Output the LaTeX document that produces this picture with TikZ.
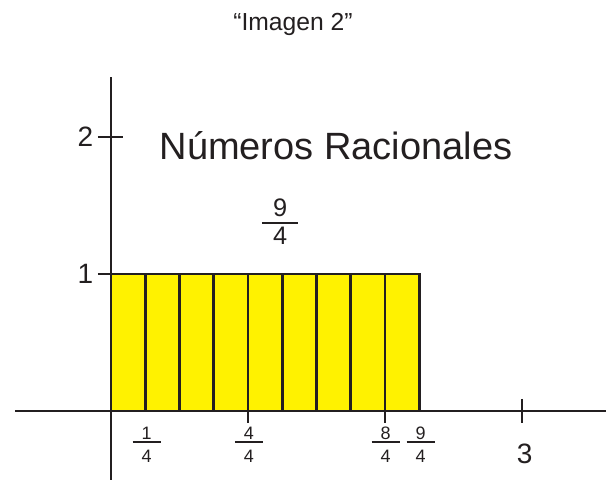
\documentclass[tikz,border=0pt]{standalone}
\usepackage{fontspec}
\setmainfont{Liberation Sans}
\definecolor{tinta}{HTML}{231F20}
\definecolor{amarillo}{HTML}{FFF200}
% fraccion: #1 hueco arriba, #2 grosor, #3 hueco abajo, #4 ancho extra, #5/#6
\newcommand{\fraccion}[6]{\vbox{\offinterlineskip\halign{\hfil##\hfil\cr
    \hspace{#4}#5\hspace{#4}\cr
    \noalign{\kern#1\hrule height#2\kern#3}
    #6\cr}}}
\tikzset{
    numero/.style={font=\fontsize{21bp}{25bp}\selectfont},
    chica/.style={font=\fontsize{13.5bp}{16bp}\selectfont},
    grande/.style={font=\fontsize{19bp}{22bp}\selectfont},
}
\newcommand{\cuarto}[2]{\fraccion{0.08em}{0.15em}{0.36em}{0.5em}{#1}{#2}}
\begin{document}
\begin{tikzpicture}[x=3.625cm, y=3.625cm, line width=2pt, color=tinta]
    \useasboundingbox (-0.810,-0.504) rectangle (3.613,3.0);

    % Rectangulo de 9/4 dividido en cuartos
    \fill[amarillo] (0,0) rectangle (9/4,1);
    \foreach \i in {1,...,8}
        \draw (\i/4,0) -- (\i/4,1);
    \draw (0,1) -- (9/4,1) -- (9/4,0);

    % Ejes
    \draw (-0.70,0) -- (3.613,0);
    \draw (0,2.438) -- (0,-0.504);

    % Marcas
    \draw (1,0) -- (1,-0.088);
    \draw (2,0) -- (2,-0.088);
    \draw (3,0.088) -- (3,-0.088);
    \draw (-0.095,2) -- (0.088,2);
    \draw (-0.095,1) -- (0,1);

    % Numeros de los ejes
    \node[numero, anchor=east, inner sep=1pt] (dos) at (-0.11,2) {2};
    \node[numero, anchor=east, inner sep=1pt] (uno) at (-0.11,1) {1};
    \node[numero] (tres) at (3.02,-0.314) {3};

    % Fracciones bajo el eje
    \node[chica] (unCuarto) at (0.26,-0.244) {\cuarto{1}{4}};
    \node[chica] (cuatroCuartos) at (1.007,-0.244) {\cuarto{4}{4}};
    \node[chica] (ochoCuartos) at (2.005,-0.244) {\cuarto{8}{4}};
    \node[chica] (nueveCuartos) at (2.26,-0.244) {\cuarto{9}{4}};

    % Textos
    \node[grande] (total) at (1.234,1.381) {\fraccion{0.18em}{0.11em}{0.1em}{0.44em}{9}{4}};
    \node[font=\fontsize{28.5bp}{34bp}\selectfont] (titulo) at (1.642,1.934) {Números Racionales};
    \node[font=\fontsize{18.5bp}{22bp}\selectfont] (imagen) at (1.328,2.825) {“Imagen 2”};
\end{tikzpicture}
\end{document}
